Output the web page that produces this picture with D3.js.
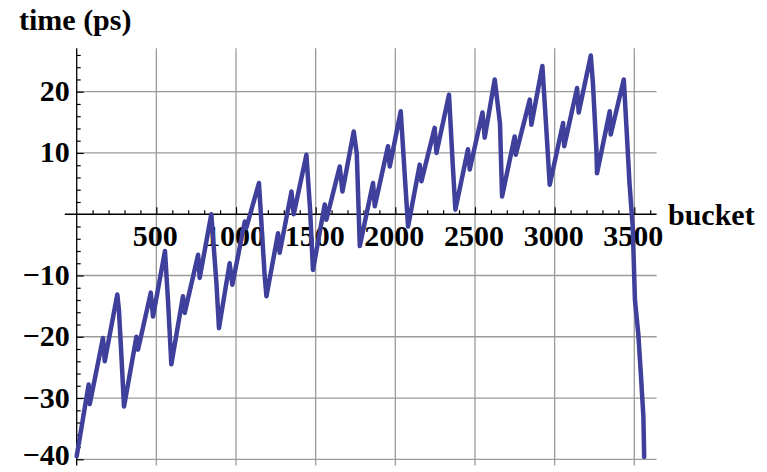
<!DOCTYPE html>
<html>
<head>
<meta charset="utf-8">
<script src="https://cdn.jsdelivr.net/npm/d3@7"></script>
<style>
  body { margin: 0; background: #fff; }
  text { font-family: "Liberation Serif", "Times New Roman", serif; font-weight: bold; }
</style>
</head>
<body>
<div id="chart"></div>
<script>
// values (bucket, time in ps)
var buckets = [0, 75, 82, 165, 176, 255, 265, 282, 297,
    375, 385, 465, 479, 554, 573, 594,
    667, 678, 762, 772, 845, 877, 893,
    960, 977, 1055, 1065, 1144, 1180, 1191,
    1264, 1274, 1348, 1362, 1442, 1465, 1483,
    1557, 1567, 1651, 1668, 1739, 1758, 1777,
    1860, 1871, 1954, 1965, 2034, 2061, 2080,
    2153, 2164, 2247, 2258, 2337, 2360, 2377,
    2456, 2467, 2547, 2561, 2624, 2657, 2670,
    2749, 2756, 2844, 2854, 2923, 2948, 2969,
    3053, 3060, 3141, 3151, 3227, 3240, 3262, 3266,
    3346, 3352, 3434, 3451, 3470, 3490, 3504, 3525, 3541, 3557, 3562];
var times = [-39.5, -27.8, -31, -20.2, -24, -13.1, -15.6, -23.8, -31.4,
    -20, -22.1, -12.8, -16.7, -6, -14, -24.5,
    -13.4, -16.1, -6.6, -10.4, 0, -11.2, -18.6,
    -8, -11.5, -1.2, -2.2, 5.1, -10.1, -13.4,
    -3.1, -6.3, 3.7, 0, 9.7, 0.7, -9.1,
    1.6, -0.9, 7.8, 3.7, 13.5, 9.9, -5.2,
    5.1, 1.3, 11.1, 7.8, 16.8, 5.6, -2,
    8.1, 5.4, 14.1, 10, 19.5, 8.3, 0.75,
    10.6, 7.3, 16.6, 12.5, 22, 14.8, 2.9,
    12.7, 9.7, 18.7, 14.6, 24.2, 13.8, 4.8,
    14.9, 11.1, 20.6, 16.6, 25.9, 21.5, 10.6, 6.7,
    16.8, 13, 22, 14.1, 5, -2, -14, -19.5, -26, -33, -39.6];

var xTickLabels = [500, 1000, 1500, 2000, 2500, 3000, 3500];
var yTickLabels = [20, 10, -10, -20, -30, -40];
var xLabel = "bucket";
var yLabel = "time (ps)";

var width = 767, height = 472;

var svg = d3.select("#chart")
    .append("svg")
    .attr("width", width)
    .attr("height", height);

var x = d3.scaleLinear().domain([0, 3500]).range([76.7, 634.3]);
var y = d3.scaleLinear().domain([-40, 20]).range([459.3, 91.7]);

var xMin = -75, xMax = 3640, yMin = -41, yMax = 27.1;

// grid
svg.append("g")
    .selectAll("line")
    .data(xTickLabels)
    .enter()
    .append("line")
    .attr("x1", d => x(d)).attr("x2", d => x(d))
    .attr("y1", y(yMax)).attr("y2", y(yMin))
    .attr("stroke", "#9a9a9a").attr("stroke-width", 1.3);

svg.append("g")
    .selectAll("line")
    .data(yTickLabels)
    .enter()
    .append("line")
    .attr("x1", x(0)).attr("x2", x(xMax))
    .attr("y1", d => y(d)).attr("y2", d => y(d))
    .attr("stroke", "#9a9a9a").attr("stroke-width", 1.3);

// x axis (ticks point up)
var xMinor = d3.range(100, 3700, 100).filter(d => d % 500 != 0);
var xAxisG = svg.append("g").attr("transform", "translate(0," + y(0) + ")");
xAxisG.call(d3.axisTop(x).tickValues(xMinor).tickSize(4).tickFormat(""));
xAxisG.append("g").call(d3.axisTop(x).tickValues(xTickLabels).tickSize(7).tickFormat(""));
xAxisG.selectAll(".domain").remove();
xAxisG.append("line")
    .attr("x1", x(xMin)).attr("x2", x(xMax))
    .attr("stroke", "#000").attr("stroke-width", 1.3);
xAxisG.selectAll(".tick line").attr("stroke", "#000").attr("stroke-width", 1.2);

xAxisG.selectAll(".xlab")
    .data(xTickLabels)
    .enter()
    .append("text")
    .attr("class", "xlab")
    .attr("x", d => x(d) - 1)
    .attr("y", 32)
    .attr("text-anchor", "middle")
    .attr("font-size", "30px")
    .attr("fill", "#000")
    .text(d => d);

// y axis (ticks point right)
var yMinor = d3.range(-40, 28, 2).filter(d => d % 10 != 0);
var yAxisG = svg.append("g").attr("transform", "translate(" + x(0) + ",0)");
yAxisG.call(d3.axisRight(y).tickValues(yMinor).tickSize(4).tickFormat(""));
yAxisG.append("g").call(d3.axisRight(y).tickValues(yTickLabels).tickSize(7).tickFormat(""));
yAxisG.selectAll(".domain").remove();
yAxisG.append("line")
    .attr("y1", y(yMax)).attr("y2", y(yMin))
    .attr("stroke", "#000").attr("stroke-width", 1.3);
yAxisG.selectAll(".tick line").attr("stroke", "#000").attr("stroke-width", 1.2);

yAxisG.selectAll(".ylab")
    .data(yTickLabels)
    .enter()
    .append("text")
    .attr("class", "ylab")
    .attr("x", -7)
    .attr("y", d => Math.min(y(d) + 9.5, 465))
    .attr("text-anchor", "end")
    .attr("font-size", "30px")
    .attr("fill", "#000")
    .text(d => d3.format("d")(d));

// axis titles
svg.append("text")
    .attr("x", 19).attr("y", 30)
    .attr("font-size", "30px")
    .text(yLabel);

svg.append("text")
    .attr("x", 668).attr("y", 225)
    .attr("font-size", "30px")
    .text(xLabel);

// data line
var line = d3.line()
    .x(function (d, i) { return x(buckets[i]); })
    .y(function (d) { return y(d); });

svg.append("path")
    .datum(times)
    .attr("d", line)
    .attr("fill", "none")
    .attr("stroke", "#3f3f9c")
    .attr("stroke-width", 4.5)
    .attr("stroke-linejoin", "round")
    .attr("stroke-linecap", "round");
</script>
</body>
</html>
